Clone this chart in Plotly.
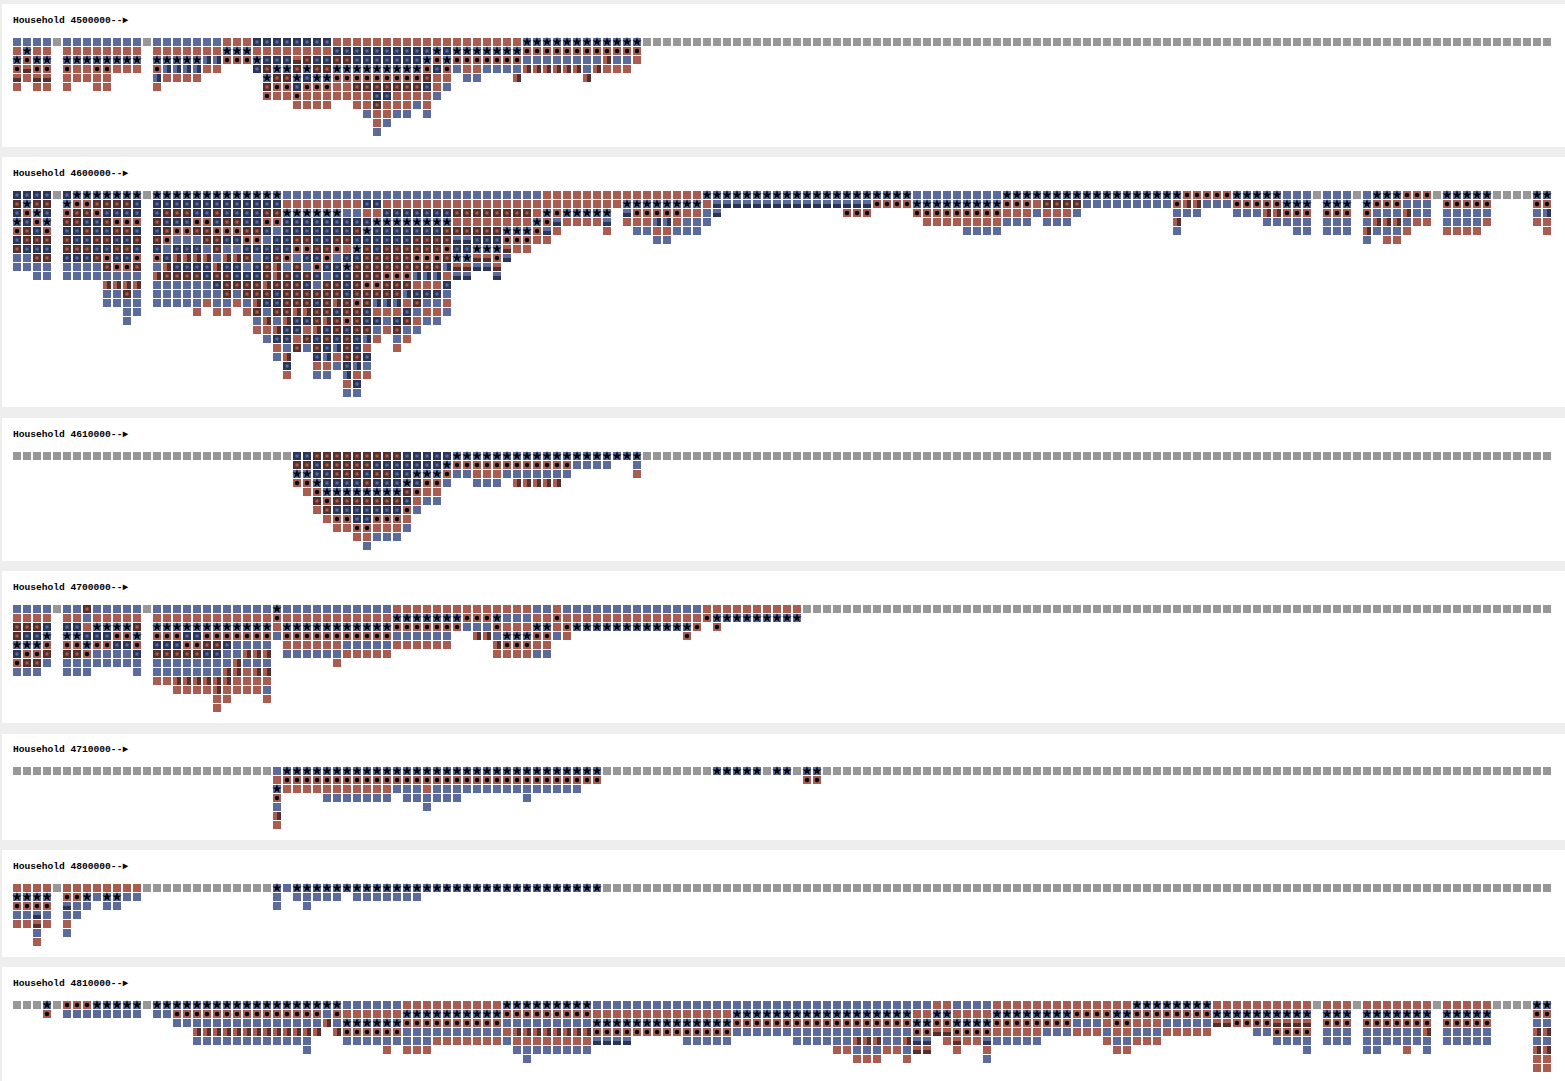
import plotly.graph_objects as go

# Cell codes, each row is run-length coded, "_" means no cell in that column
# b blue, r red, g grey, n navy, m maroon, s star on blue, c dot on red
# v red|maroon, w blue|navy, h blue over navy, k red over maroon
HOUSEHOLDS = ["4500000", "4600000", "4610000", "4700000", "4710000", "4800000", "4810000"]

rows_4500000 = [
    "b4 g b8 g b7 r3 n8 r19 s12 g91",
    "r s r2 _ r8 _ r7 s3 r8 n10 s n s7 c12",
    "s c s2 _ s8 _ s5 w2 c3 s n3 k m n2 m2 n7 s c s c7 b8 v b2 r",
    "c k c2 _ c r2 c2 r3 _ c w4 r2 _3 n m s2 m s m2 s9 c n c b r2 b4 v6 b v r3",
    "k r k2 _ r5 _4 w r4 _6 s m2 s n s2 c9 m r2 _ b2 _3 v _6 v",
    "r _ r2 _ r _2 r2 _4 r _10 m c2 n c3 r2 m7 n r b",
    "_25 c r2 c r7 n2 r4 b",
    "_28 r4 _2 r2 m r3 b r",
    "_35 b r2 b2 _ b",
    "_36 r b",
    "_36 b",
]

rows_4600000 = [
    "n4 g n s7 g s13 b26 r16 s21 b9 s18 c5 s5 b3 g b3 g b s3 c3 g s5 g4 s2",
    "m s m2 _ s c2 m4 n _ n13 r8 n2 r24 s8 r h16 c4 s9 c3 r m4 b9 c v2 b3 c5 s3 _ s3 _ s c3 b3 _ c5 _4 c2",
    "n c s n _ c m2 c n4 _ n m3 n2 m n4 m2 s6 b2 r2 n7 m8 r s c s5 _ h c5 r2 b h _12 c3 _4 c9 r3 b r3 b _9 b3 _3 b3 v2 c3 _ c3 _ c b3 v b2 _ b5 _4 b w",
    "s n c s _ m2 n2 m c3 _ m n3 c2 n m2 n2 c2 n9 s8 r8 s c h r4 h _ r3 w2 r b3 _21 r8 b3 _ b3 _10 v _8 b5 _ b3 _ b v3 b r2 _ b4 r _4 r2",
    "c m n c _ n2 m n2 m2 n _ n m c2 m2 c3 m2 n b n7 m s n7 m6 s3 c h r _4 r _2 b2 r2 b3 _26 b4 _17 b _11 b2 _ b3 _ v b3 r _3 r4 _6 r",
    "n m3 _ m n2 m2 n2 m _ m c b3 m2 n2 c2 b n2 m2 n2 m2 n6 m4 h2 n3 c3 r2 _10 b2 _69 b _ r2",
    "m n3 _ m3 n2 m2 n _ n b n3 b m b2 n5 c2 m2 c r s m n m6 c n2 s3 k r2",
    "b2 m2 _ n3 m c n2 c _ c n v4 b v2 m b n m c b n2 c b n2 m5 c3 m s2 k2 c h",
    "b4 _ b4 m c2 m _ b v n4 v n2 b n m v b m b c n2 s m9 w k2 h2 k",
    "_2 b2 _ b8 _ v m4 n m2 n3 m v m n m n b n2 m3 c3 w3 r h2 _2 h",
    "_9 v4 _ b6 n m4 v m3 n b m2 n m c2 m3 r3 n",
    "_9 b2 m b _ b7 m b m3 n m6 n m5 w n3 b",
    "_9 b4 _ b5 r b2 r b v n2 m3 n m v m c m w3 r m b2 r",
    "_11 b2 _5 r _ r2 _ r m b m2 v2 m2 n m2 n r3 n b r2 b",
    "_11 b _12 b v b v n2 m v m c m n2 b n m r b2",
    "_24 r2 v n2 r v n m n m2 b r m b2",
    "_25 b n2 r m n m n m n w r _ b r",
    "_26 r b m b m n w m n r _2 r",
    "_26 b v _2 n w r m2 n",
    "_27 n _2 r2 b n w b",
    "_27 r _2 b2 _ w r2",
    "_33 r n",
    "_33 b2",
]

rows_4610000 = [
    "g28 n2 m9 n5 s19 g91",
    "_28 m2 n m5 n7 s c12 b4 _2 b",
    "_28 s2 n2 m3 n m2 n2 s3 c b2 r3 b7 _6 r",
    "_28 c2 s n4 m n3 s n c2 b _2 b3 _ v5",
    "_29 r c s8 m c r2",
    "_30 m c m7 n r b2",
    "_30 r m n7 c b",
    "_31 r c2 n2 c3 r",
    "_32 r2 c2 r3 b",
    "_34 r2 b3",
    "_35 b",
]

rows_4700000 = [
    "b4 g b2 m b5 g b12 s b11 r14 b2 r b14 r10 g75",
    "r4 _ r2 b r5 _ r12 c r11 s7 c3 s b3 r2 c r14 c s9",
    "m3 n _ n2 r s4 m _ s12 r s11 c7 b3 c r3 s2 r c s12 c _ c",
    "m n2 s _ s2 n3 c2 s _ c3 n2 c7 b c11 b6 _2 v2 b s3 c2 b r _11 c",
    "s3 c _ c2 s c2 n2 c _ n3 c2 m2 n b4 _ r6 b5 r6 _4 v c3 r2",
    "n c2 m _ m2 c b4 n _ m5 n2 b2 v3 _ b6 r5 _10 r4 b2",
    "c m2 b _ b8 _ b8 v b3 _6 r",
    "b3 _2 b3 _4 b _ b7 v2 r v2",
    "_14 r2 v6 r4",
    "_16 r4 v r4 b",
    "_20 r2 _3 r",
    "_20 r",
]

rows_4710000 = [
    "g26 b s32 g11 s5 g s2 g s2 g73",
    "_26 r c32 _20 c2",
    "_26 s r11 b3 r b15",
    "_26 c _4 b7 _ b6 _6 b",
    "_26 b _14 b",
    "_26 v",
    "_26 r",
]

rows_4800000 = [
    "r4 g r8 g13 s b s31 g95",
    "s4 _ c2 s b s2 b2 _13 b _ b5 _ b7",
    "c4 _ h b2 _ b2 _15 b _2 b",
    "b2 h b _ b2",
    "r2 k r _ r",
    "_2 b _2 b",
    "_2 r",
]

rows_4810000 = [
    "g3 s g c3 s5 g s19 b6 r10 s9 b34 r2 b4 r14 s8 r10 g r3 g r7 g r5 g4 s2",
    "_3 c _ b8 _ b2 c15 b c r6 s10 c9 r14 s18 r2 s2 r4 s8 c4 s2 c8 s10 _ s3 _ s7 _ s5 _4 c2",
    "_16 b15 v b s6 c10 b9 s14 c18 s2 c2 s4 c8 b3 r c2 r3 b5 k2 c4 k4 _ c3 _ c7 _ c5 _4 b2",
    "_18 v13 _ v c6 b10 r v8 c14 b18 c2 k2 c4 r5 b3 r3 b r2 b3 r5 _4 b2 c4 _ b3 _ b6 v _ b5 _4 v2",
    "_18 b12 _3 b9 r7 b r8 h4 _5 b5 _6 b6 v3 b2 v h2 _ r k r2 h b5 _6 r b2 r3 _11 b4 _ b3 _ b7 _ b5 _4 b2",
    "_29 b _7 r _ r3 _8 b8 _24 r2 b3 r2 b k2 _2 r _2 r _12 r2 _17 b _5 b2 _2 r _ b _10 v2",
    "_51 b _32 r3 _2 r _7 b _54 r2",
    "_152 r2",
]

ALL_ROWS = [rows_4500000, rows_4600000, rows_4610000, rows_4700000,
            rows_4710000, rows_4800000, rows_4810000]

BLUE = "#5b6b9b"
RED = "#a95c50"
GREY = "#989898"
NAVY = "#2b3557"
MAROON = "#552f2b"
BLACK = "#05060c"

# page geometry in pixels: white panel top/bottom, first row centre
PAGE_W, PAGE_H = 1565, 1081
PANEL_TOP = [4, 157, 418, 571, 734, 850, 967]
PANEL_BOTTOM = [147, 407, 561, 723, 840, 957, 1081]
ROW0_CENTER = [42, 195, 456, 609, 771, 888, 1005]
PANEL_LEFT = 2
COL_W, ROW_H = 10, 9
COL0_CENTER = 17
LABEL_ABOVE = 21.5

# fill colour of the whole cell
FILL = {"b": BLUE, "r": RED, "g": GREY, "n": NAVY, "m": MAROON, "s": BLUE,
        "c": RED, "v": RED, "w": BLUE, "h": BLUE, "k": RED}


def expand(row):
    cells = []
    for tok in row.split():
        cells += tok[0] * (int(tok[1:]) if len(tok) > 1 else 1)
    return cells


def collect(rows, codes):
    xs, ys = [], []
    for y, row in enumerate(rows):
        for x, code in enumerate(expand(row)):
            if code in codes:
                xs.append(x)
                ys.append(y)
    return xs, ys


def squares(fig, rows, codes, color, size, ref, symbol="square"):
    xs, ys = collect(rows, codes)
    if not xs:
        return
    fig.add_trace(go.Scatter(
        x=xs, y=ys, mode="markers", xaxis="x" + ref, yaxis="y" + ref,
        marker=dict(symbol=symbol, size=size, color=color, line=dict(width=0)),
        hoverinfo="skip"
    ))


def half_bars(fig, rows, code, color, ref, symbol, dx, dy):
    xs, ys = collect(rows, code)
    if not xs:
        return
    # line symbols come out 1.4x the marker size, 5.7 gives an 8px bar
    fig.add_trace(go.Scatter(
        x=[x + dx for x in xs], y=[y + dy for y in ys], mode="markers",
        xaxis="x" + ref, yaxis="y" + ref,
        marker=dict(symbol=symbol, size=5.7, line=dict(width=4, color=color)),
        hoverinfo="skip"
    ))


fig = go.Figure()
layout = {}
notes = []

for k, rows in enumerate(ALL_ROWS):
    ref = "" if k == 0 else str(k + 1)
    for fill in [BLUE, RED, GREY, NAVY, MAROON]:
        codes = "".join(c for c, col in FILL.items() if col == fill)
        squares(fig, rows, codes, fill, 8, ref)
    squares(fig, rows, "n", BLUE, 3, ref)
    squares(fig, rows, "m", RED, 3, ref)
    half_bars(fig, rows, "v", MAROON, ref, "line-ns", 0.2, 0)
    half_bars(fig, rows, "w", NAVY, ref, "line-ns", 0.2, 0)
    half_bars(fig, rows, "h", NAVY, ref, "line-ew", 0, 2 / ROW_H)
    half_bars(fig, rows, "k", MAROON, ref, "line-ew", 0, 2 / ROW_H)
    squares(fig, rows, "s", BLACK, 7, ref, symbol="star")
    squares(fig, rows, "c", BLACK, 4.5, ref, symbol="circle")

    top, bottom, center = PANEL_TOP[k], PANEL_BOTTOM[k], ROW0_CENTER[k]
    layout["xaxis" + ref] = dict(
        domain=[PANEL_LEFT / PAGE_W, 1],
        range=[(PANEL_LEFT - COL0_CENTER) / COL_W, (PAGE_W - COL0_CENTER) / COL_W],
        visible=False, anchor="y" + ref, fixedrange=True
    )
    layout["yaxis" + ref] = dict(
        domain=[1 - bottom / PAGE_H, 1 - top / PAGE_H],
        range=[(bottom - center) / ROW_H, (top - center) / ROW_H],
        visible=False, anchor="x" + ref, fixedrange=True
    )
    notes.append(dict(
        text="<b>Household %s--\u25ba</b>" % HOUSEHOLDS[k],
        xref="x" + ref, yref="y" + ref, x=-0.55, y=-LABEL_ABOVE / ROW_H,
        xanchor="left", yanchor="middle", showarrow=False, borderpad=0,
        font=dict(family="Liberation Mono", size=9.6, color="#000000")
    ))

fig.update_layout(
    width=PAGE_W, height=PAGE_H,
    margin=dict(l=0, r=0, t=0, b=0),
    paper_bgcolor="#eeeeee", plot_bgcolor="#ffffff",
    showlegend=False, annotations=notes, **layout
)

fig.write_html("out.html", config=dict(displayModeBar=False),
               post_script="document.body.style.margin='0';document.body.style.overflow='hidden';")
